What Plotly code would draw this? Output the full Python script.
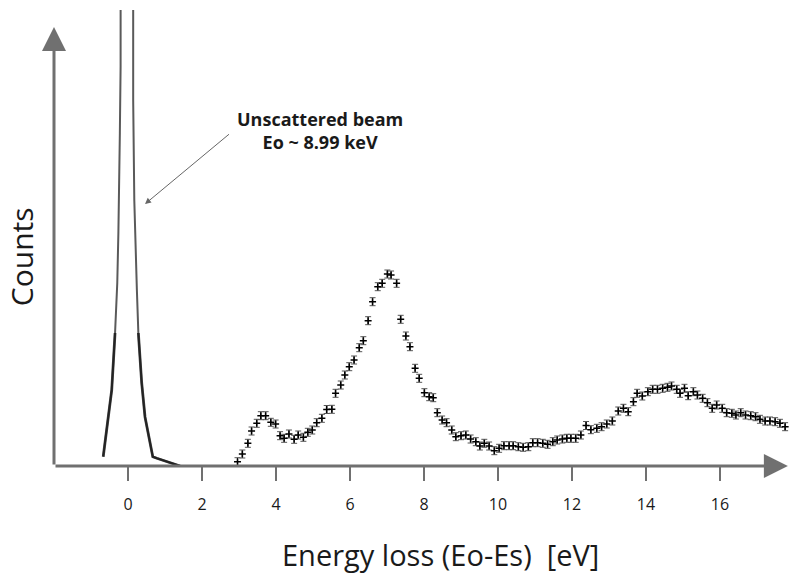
import plotly.graph_objects as go

# Inelastic scattering spectrum: energy loss (eV) vs counts (arbitrary units)
loss_ev = [
    2.96, 3.09, 3.24, 3.34, 3.48, 3.59, 3.72, 3.86, 3.99, 4.11, 4.22, 4.35, 4.49, 4.60,
    4.74, 4.86, 4.98, 5.10, 5.24, 5.37, 5.51, 5.61, 5.75, 5.86, 5.98, 6.11, 6.25, 6.36,
    6.49, 6.61, 6.75, 6.87, 7.01, 7.11, 7.26, 7.37, 7.51, 7.62, 7.76, 7.87, 8.01, 8.14,
    8.25, 8.36, 8.49, 8.61, 8.75, 8.86, 9.00, 9.13, 9.26, 9.40, 9.51, 9.63, 9.76, 9.90,
    10.03, 10.16, 10.30, 10.41, 10.55, 10.68, 10.82, 10.94, 11.07, 11.21, 11.34, 11.48,
    11.60, 11.74, 11.86, 11.97, 12.10, 12.24, 12.38, 12.51, 12.67, 12.80, 12.94, 13.09,
    13.25, 13.39, 13.52, 13.66, 13.76, 13.90, 14.05, 14.18, 14.31, 14.45, 14.58, 14.69,
    14.83, 14.92, 15.04, 15.14, 15.28, 15.39, 15.53, 15.66, 15.79, 15.91, 16.06, 16.18,
    16.32, 16.43, 16.56, 16.69, 16.83, 16.96, 17.08, 17.22, 17.35, 17.49, 17.62, 17.76,
]
counts = [
    43, 120, 227, 350, 427, 503, 503, 437, 420, 303, 277, 320, 267, 310,
    287, 337, 360, 433, 477, 565, 567, 727, 810, 910, 993, 1060, 1183, 1253,
    1453, 1643, 1793, 1827, 1920, 1910, 1827, 1467, 1300, 1193, 977, 877, 733, 693,
    683, 533, 460, 433, 360, 293, 303, 310, 270, 243, 200, 227, 200, 153,
    177, 203, 203, 203, 193, 187, 193, 233, 233, 227, 217, 243,
    260, 270, 277, 277, 277, 310, 405, 363, 377, 393, 420, 450,
    550, 577, 543, 643, 727, 700, 743, 767, 767, 777, 787, 800,
    767, 727, 777, 703, 743, 710, 677, 633, 577, 610, 577, 533,
    527, 510, 533, 510, 503, 493, 467, 450, 450, 443, 427, 393,
]
count_err = 40

# Zero-loss (unscattered) peak, split into its flanks; the apex lies far
# above the visible range
zlp_left_ev = [-0.67, -0.58, -0.44, -0.35, -0.29, -0.26, -0.24, -0.22, -0.20, -0.19]
zlp_left_counts = [93, 360, 760, 1330, 1830, 2330, 2730, 3330, 3990, 4560]
zlp_apex_ev = [-0.03]
zlp_apex_counts = [250000]
zlp_right_ev = [0.14, 0.14, 0.17, 0.19, 0.24, 0.28, 0.37, 0.46, 0.59, 0.67,
                0.78, 1.00, 1.22, 1.41]
zlp_right_counts = [4560, 3660, 2660, 2330, 1760, 1330, 830, 490, 260, 93,
                    77, 50, 27, 0]

tick_vals = [0, 2, 4, 6, 8, 10, 12, 14, 16]
tick_text = ["0", "2", "4", "6", "8", "10", "12", "14", "16"]

x_range = [-2.0, 17.865]
y_range = [0, 4560]
y_arrow_top = 4390

FONT = "Open Sans"
AXIS_GREY = "#707070"
TEXT = "#1a1a1a"

zlp_ev = zlp_left_ev + zlp_apex_ev + zlp_right_ev
zlp_counts = zlp_left_counts + zlp_apex_counts + zlp_right_counts

fig = go.Figure()

# full outline of the zero-loss peak
fig.add_trace(go.Scatter(
    x=zlp_ev, y=zlp_counts, mode="lines",
    line=dict(color="#5a5a5a", width=2),
    hoverinfo="skip", showlegend=False,
))
# darker, denser lower flanks
low_l = [i for i, c in enumerate(zlp_left_counts) if c <= 1400]
low_r = [i for i, c in enumerate(zlp_right_counts) if c <= 1400]
for xs, ys, idx in ((zlp_left_ev, zlp_left_counts, low_l),
                    (zlp_right_ev, zlp_right_counts, low_r)):
    fig.add_trace(go.Scatter(
        x=[xs[i] for i in idx], y=[ys[i] for i in idx], mode="lines",
        line=dict(color="#111111", width=2.8),
        opacity=0.75, hoverinfo="skip", showlegend=False,
    ))

fig.add_trace(go.Scatter(
    x=loss_ev, y=counts, mode="markers",
    marker=dict(symbol="cross-thin", size=5, color="black",
                line=dict(color="black", width=1.6)),
    error_y=dict(type="constant", value=count_err, color="#555555",
                 thickness=1, width=3),
    showlegend=False,
))

annotations = [
    # x axis with arrowhead
    dict(x=x_range[1] - 0.03, y=0, ax=x_range[0], ay=0,
         xref="x", yref="y", axref="x", ayref="y",
         showarrow=True, arrowhead=2, arrowsize=1.6, arrowwidth=3,
         arrowcolor=AXIS_GREY, standoff=0, text=""),
    # y axis with arrowhead
    dict(x=x_range[0], y=y_arrow_top, ax=x_range[0], ay=0,
         xref="x", yref="y", axref="x", ayref="y",
         showarrow=True, arrowhead=2, arrowsize=1.6, arrowwidth=3,
         arrowcolor=AXIS_GREY, standoff=0, text=""),
    # label for the unscattered beam
    dict(x=0.46, y=2620, ax=2.77, ay=3330,
         xref="x", yref="y", axref="x", ayref="y",
         showarrow=True, arrowhead=2, arrowsize=1.2, arrowwidth=1,
         arrowcolor="#666666", standoff=0, text=""),
    dict(x=5.2, y=3360, xref="x", yref="y", showarrow=False,
         text="<b>Unscattered beam<br>Eo ~ 8.99 keV</b>",
         font=dict(family=FONT, size=18, color=TEXT),
         align="center", xanchor="center", yanchor="middle"),
    # axis titles
    dict(x=0.526, y=-0.194, xref="paper", yref="paper", showarrow=False,
         text="Energy loss (Eo-Es) \u00a0[eV]",
         font=dict(family=FONT, size=29, color=TEXT),
         xanchor="center", yanchor="middle"),
    dict(x=-0.045, y=0.46, xref="paper", yref="paper", showarrow=False,
         text="Counts", textangle=-90,
         font=dict(family=FONT, size=30, color=TEXT),
         xanchor="center", yanchor="middle"),
]

fig.update_layout(
    width=789, height=583,
    margin=dict(l=54, r=0, t=10, b=117),
    paper_bgcolor="white", plot_bgcolor="white",
    xaxis=dict(range=x_range, tickvals=tick_vals, ticktext=tick_text,
               showgrid=False, zeroline=False, showline=False,
               ticks="outside", ticklen=14, tickwidth=2, tickcolor=AXIS_GREY,
               ticklabelstandoff=10,
               tickfont=dict(family=FONT, size=16, color=TEXT)),
    yaxis=dict(range=y_range, showgrid=False, zeroline=False, showline=False,
               showticklabels=False, ticks=""),
    annotations=annotations,
)

fig.write_html("out.html")
